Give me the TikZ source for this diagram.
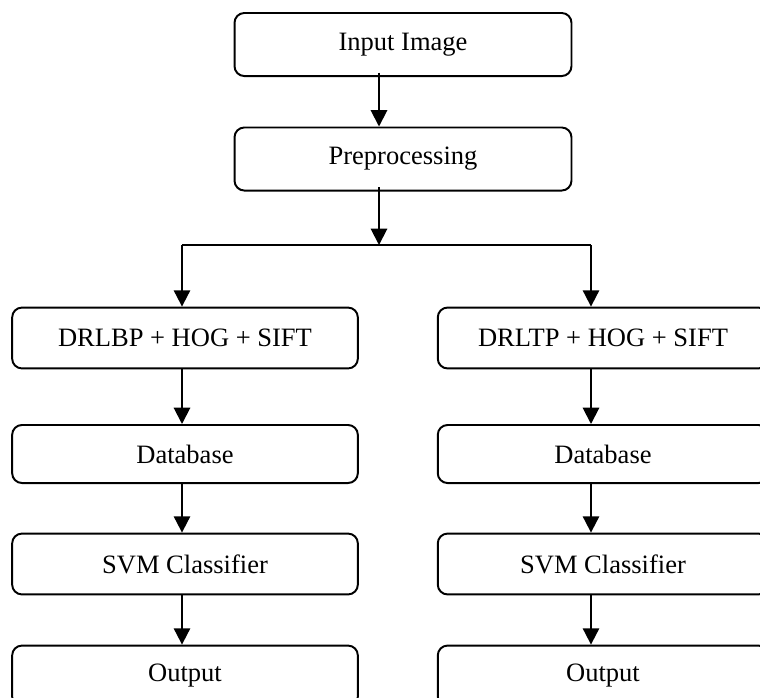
\documentclass[tikz,border=0pt]{standalone}
\usepackage{fontspec}
\setmainfont{Liberation Serif}
\usetikzlibrary{arrows.meta}
\tikzset{
	stage/.style={draw,line width=0.9pt,rounded corners=4.5pt,inner sep=0pt,font=\fontsize{12.2}{14}\selectfont},
	wide/.style={stage,minimum width=155pt,minimum height=29pt},
	side/.style={stage,minimum width=159pt,minimum height=28pt},
	arr/.style={line width=0.9pt,-{Triangle[width=7.5pt,length=7.5pt]}}
}
\begin{document}
\begin{tikzpicture}[x=0.46pt,y=-0.46pt]
	\useasboundingbox (0,0) rectangle (760,697);
	\clip (0,0) rectangle (760,697);
	\node[wide] (input) at (403,44.5) {Input Image};
	\node[wide] (prep) at (403,159) {Preprocessing};
	\coordinate (split) at (379,245);
	\coordinate (jl) at (182,245);
	\coordinate (jr) at (591,245);
	% left column
	\node[side] (featl) at (185,338) {DRLBP + HOG + SIFT};
	\node[side,minimum height=26.7pt] (dbl) at (185,454) {Database};
	\node[side] (svml) at (185,564) {SVM Classifier};
	\node[side] (outl) at (185,676) {Output};
	% right column
	\node[side,minimum width=152pt] (featr) at (603,338) {DRLTP + HOG + SIFT};
	\node[side,minimum width=152pt,minimum height=26.7pt] (dbr) at (603,454) {Database};
	\node[side,minimum width=152pt] (svmr) at (603,564) {SVM Classifier};
	\node[side,minimum width=152pt] (outr) at (603,676) {Output};
	\draw[arr] ([yshift=2pt]input.south -| split) -- (prep.north -| split);
	\draw[arr] ([yshift=2pt]prep.south -| split) -- (split);
	\draw[line width=0.9pt] (jl) -- (jr);
	\draw[arr] (jl) -- (featl.north -| jl);
	\draw[arr] (jr) -- (featr.north -| jr);
	\draw[arr] (featl.south -| jl) -- (dbl.north -| jl);
	\draw[arr] (dbl.south -| jl) -- (svml.north -| jl);
	\draw[arr] (svml.south -| jl) -- (outl.north -| jl);
	\draw[arr] (featr.south -| jr) -- (dbr.north -| jr);
	\draw[arr] (dbr.south -| jr) -- (svmr.north -| jr);
	\draw[arr] (svmr.south -| jr) -- (outr.north -| jr);
\end{tikzpicture}
\end{document}
